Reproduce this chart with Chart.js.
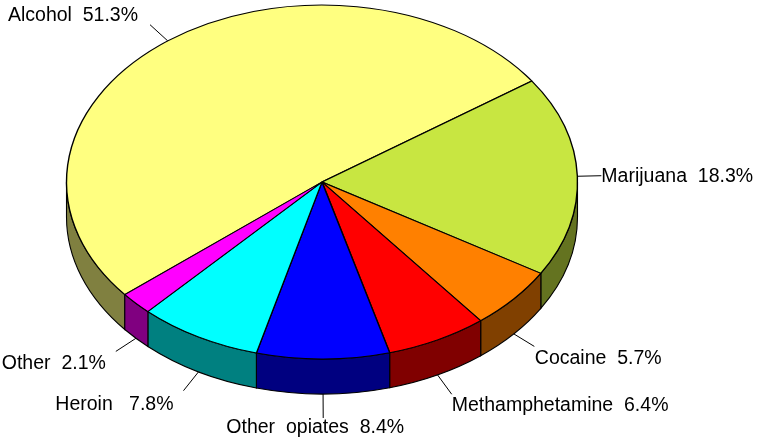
<!DOCTYPE html>
<html>
<head>
<meta charset="utf-8">
<script src="https://cdn.jsdelivr.net/npm/chart.js@4.4.1/dist/chart.umd.min.js"></script>
<style>
  html, body { margin: 0; padding: 0; background: #ffffff; }
  canvas { display: block; }
</style>
</head>
<body>
<canvas id="chart" width="757" height="440"></canvas>
<script>
// Substance shares (percent)
const categories = ['Alcohol', 'Marijuana', 'Cocaine', 'Methamphetamine', 'Other  opiates', 'Heroin ', 'Other'];
const shares = [51.3, 18.3, 5.7, 6.4, 8.4, 7.8, 2.1];

// Slice colours: top face and darker side wall
const topColors  = ['#FFFF80', '#C8E641', '#FF8000', '#FF0000', '#0000FF', '#00FFFF', '#FF00FF'];
const sideColors = ['#808040', '#647320', '#804000', '#800000', '#000080', '#008080', '#800080'];

// Pie geometry: horizontal radius, vertical squash and wall depth
const RADIUS = 255.5;
const SQUASH = 177 / 255.5;
const DEPTH = 35;
const LEADER = 24;
const FONT = '19.5px "Liberation Sans", Arial, sans-serif';
// small per-label text nudges [dx, dy]
const labelNudge = [[-2, 1], [1, 1], [1.5, 4], [1, 0], [-8, -3], [0, 3], [0, 3]];

const pie3d = {
  id: 'pie3d',
  beforeDatasetsDraw(chart) {
    const ctx = chart.ctx;
    const arcs = chart.getDatasetMeta(0).data;
    const cx = arcs[0].x, cy = arcs[0].y, rx = arcs[0].outerRadius, ry = rx * SQUASH;
    // side walls of the front half (screen angles 0..PI)
    arcs.forEach((arc, i) => {
      const s = arc.startAngle, e = arc.endAngle;
      for (let k = -2; k <= 2; k++) {
        const a = Math.max(s, k * 2 * Math.PI);
        const b = Math.min(e, k * 2 * Math.PI + Math.PI);
        if (b <= a) continue;
        ctx.save();
        ctx.beginPath();
        ctx.ellipse(cx, cy, rx, ry, 0, a, b);
        ctx.ellipse(cx, cy + DEPTH, rx, ry, 0, b, a, true);
        ctx.closePath();
        ctx.fillStyle = sideColors[i];
        ctx.fill();
        ctx.lineWidth = 1.1;
        ctx.strokeStyle = '#000';
        ctx.lineJoin = 'miter';
        ctx.stroke();
        ctx.restore();
      }
    });
    // squash the top face into an ellipse
    ctx.save();
    ctx.translate(cx, cy);
    ctx.scale(1, SQUASH);
    ctx.translate(-cx, -cy);
  },
  afterDatasetsDraw(chart) {
    const ctx = chart.ctx;
    ctx.restore();
    const arcs = chart.getDatasetMeta(0).data;
    const cx = arcs[0].x, cy = arcs[0].y, rx = arcs[0].outerRadius, ry = rx * SQUASH;
    ctx.save();
    ctx.font = FONT;
    ctx.fillStyle = '#000';
    ctx.strokeStyle = '#000';
    ctx.lineWidth = 1;
    ctx.textBaseline = 'middle';
    arcs.forEach((arc, i) => {
      const m = (arc.startAngle + arc.endAngle) / 2;
      const c = Math.cos(m), s = Math.sin(m);
      const oy = s > 0 ? DEPTH : 0;
      const px = cx + rx * c, py = cy + oy + ry * s;
      const vx = px - cx, vy = py - (cy + oy);
      const len = Math.hypot(vx, vy);
      const ex = px + LEADER * vx / len, ey = py + LEADER * vy / len;
      ctx.beginPath();
      ctx.moveTo(px, py);
      ctx.lineTo(ex, ey);
      ctx.stroke();
      let tx = ex;
      if (c > 0.25) { ctx.textAlign = 'left'; tx = ex - 1; }
      else if (c < -0.25) { ctx.textAlign = 'right'; tx = ex - 10; }
      else { ctx.textAlign = 'center'; }
      const ty = ey + 13 * s;
      const text = categories[i] + '  ' + shares[i].toFixed(1) + '%';
      ctx.fillText(text, tx + labelNudge[i][0], ty + labelNudge[i][1]);
    });
    ctx.restore();
  }
};

new Chart(document.getElementById('chart'), {
  type: 'pie',
  data: {
    labels: categories,
    datasets: [{
      data: shares,
      backgroundColor: topColors,
      borderColor: '#000000',
      borderWidth: 1.4,
      clip: false
    }]
  },
  options: {
    responsive: false,
    devicePixelRatio: 1,
    animation: false,
    events: [],
    radius: RADIUS,
    rotation: -129.48,
    layout: { padding: { left: 0, top: 0, right: 113, bottom: 76 } },
    plugins: { legend: { display: false }, tooltip: { enabled: false } }
  },
  plugins: [pie3d]
});
</script>
</body>
</html>
